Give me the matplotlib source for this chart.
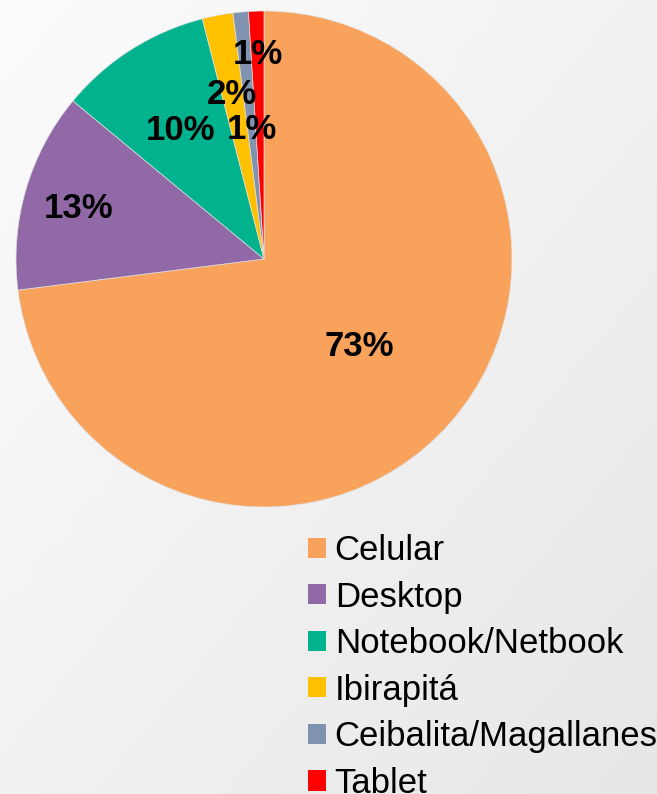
"""Pie chart: device share (Celular / Desktop / ...), Excel-like styling."""
import numpy as np
import matplotlib
matplotlib.use("Agg")
import matplotlib.pyplot as plt
from matplotlib.colors import LinearSegmentedColormap
from matplotlib.patches import Patch

plt.rcParams["font.family"] = ["Liberation Sans", "DejaVu Sans"]

labels = ["Celular", "Desktop", "Notebook/Netbook", "Ibirapitá",
          "Ceibalita/Magallanes", "Tablet"]
values = [73, 13, 10, 2, 1, 1]
colors = ["#F9A25C", "#9169A6", "#00B28E", "#FFC000", "#7F92AF", "#FF0000"]
# radial position of each percentage label (fraction of radius)
label_r = [0.51, 0.78, 0.63, 0.69, 0.54, 0.84]

W, H = 657, 794
fig = plt.figure(figsize=(W / 100, H / 100), dpi=100)

# light diagonal gradient background
bg = fig.add_axes([0, 0, 1, 1], zorder=-1)
yy, xx = np.mgrid[0:1:200j, 0:1:200j]
cmap = LinearSegmentedColormap.from_list("bg", ["#FCFCFC", "#E7E7E7"])
bg.imshow((xx + yy) / 2, cmap=cmap, aspect="auto", extent=(0, 1, 0, 1),
          origin="upper", vmin=0, vmax=1)
bg.axis("off")

# pie axes: centre (264, 259) px, radius 248 px
cx, cy, r = 264, 259, 248
ax = fig.add_axes([(cx - r) / W, 1 - (cy + r) / H, 2 * r / W, 2 * r / H])
wedges, _ = ax.pie(values, colors=colors, startangle=90, counterclock=False,
                   radius=1, wedgeprops=dict(linewidth=0.5, edgecolor="#e0e0e0"))
for w, v, lr in zip(wedges, values, label_r):
    th = np.deg2rad((w.theta1 + w.theta2) / 2)
    ax.text(lr * np.cos(th), lr * np.sin(th), f"{v}%", ha="center",
            va="center_baseline", fontsize=25, fontweight="bold", color="black")
ax.set_xlim(-1, 1)
ax.set_ylim(-1, 1)
ax.axis("off")

handles = [Patch(facecolor=c, edgecolor="none") for c in colors]
fig.legend(handles, labels, loc="upper left", bbox_to_anchor=(308 / W, 1 - 534 / H),
           frameon=False, fontsize=25, handlelength=0.52, handleheight=0.52,
           handletextpad=0.25, labelspacing=0.39, borderpad=0, borderaxespad=0)

fig.savefig("out.png", dpi=100)
plt.close(fig)
